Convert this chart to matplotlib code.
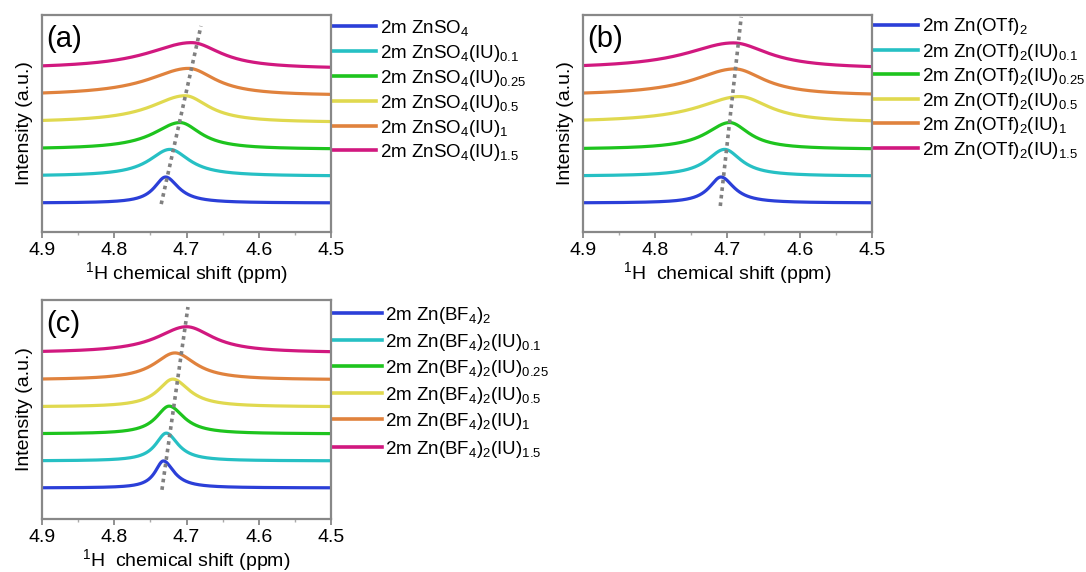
import numpy as np
import matplotlib
matplotlib.use('Agg')
import matplotlib.pyplot as plt
from matplotlib.transforms import offset_copy

plt.rcParams['font.family'] = ['Liberation Sans', 'DejaVu Sans']
plt.rcParams['mathtext.fontset'] = 'custom'
plt.rcParams['mathtext.rm'] = 'Liberation Sans'
plt.rcParams['mathtext.it'] = 'Liberation Sans:italic'

colors = ['#2b3fd8', '#26c0c4', '#1ec41e', '#e0d94f', '#e0823d', '#d1187f']
iu_ratio = ['', '(IU)$_{0.1}$', '(IU)$_{0.25}$', '(IU)$_{0.5}$', '(IU)$_{1}$', '(IU)$_{1.5}$']

# peak centre (ppm), half widths on the high / low ppm side, peak height
a_peaks = [4.729, 4.723, 4.709, 4.702, 4.697, 4.693]
a_hw_hi = [0.019, 0.035, 0.045, 0.058, 0.068, 0.075]
a_hw_lo = [0.022, 0.033, 0.035, 0.040, 0.045, 0.050]
a_height = [0.97, 1.0, 1.0, 1.0, 1.02, 0.98]

b_peaks = [4.709, 4.704, 4.697, 4.683, 4.690, 4.692]
b_hw_hi = [0.020, 0.030, 0.040, 0.070, 0.070, 0.080]
b_hw_lo = [0.022, 0.028, 0.033, 0.050, 0.050, 0.060]
b_height = [0.97, 1.0, 1.0, 0.97, 1.0, 0.97]

c_peaks = [4.732, 4.728, 4.724, 4.719, 4.716, 4.700]
c_hw_hi = [0.014, 0.018, 0.022, 0.025, 0.035, 0.050]
c_hw_lo = [0.018, 0.020, 0.025, 0.028, 0.035, 0.045]
c_height = [1.0, 1.03, 1.03, 1.03, 1.0, 0.97]

# dotted guide through the peak maxima: (x0, y0, x1, y1)
a_guide = [4.735, -0.04, 4.680, 6.6]
b_guide = [4.710, -0.11, 4.681, 6.94]
c_guide = [4.734, -0.07, 4.698, 6.7]

salts = ['ZnSO$_4$', 'Zn(OTf)$_2$', 'Zn(BF$_4$)$_2$']

x = np.linspace(4.9, 4.5, 1200)


def lorentz(x, x0, hw_hi, hw_lo):
    hw = np.where(x > x0, hw_hi, hw_lo)
    return 1.0 / (1.0 + ((x - x0) / hw) ** 2)


def panel(fig, rect, tag, salt, peaks, hw_hi, hw_lo, height, guide, ylim,
          xlabel, leg_rows, leg_x):
    ax = fig.add_axes(rect)
    for i in range(6):
        y = i + height[i] * lorentz(x, peaks[i], hw_hi[i], hw_lo[i])
        ax.plot(x, y, color=colors[i], lw=2.3, solid_capstyle='butt')
    ax.plot(guide[::2], guide[1::2], color='#808080', lw=2.6,
            linestyle=(0, (1, 1.1)))
    ax.set_xlim(4.9, 4.5)
    ax.set_ylim(*ylim)
    ax.set_xticks([4.9, 4.8, 4.7, 4.6, 4.5])
    ax.set_xticks([4.85, 4.75, 4.65, 4.55], minor=True)
    ax.set_yticks([])
    ax.tick_params(axis='x', which='major', direction='out', length=4,
                   width=1.3, color='#888888', labelsize=14, pad=3)
    ax.tick_params(axis='x', which='minor', direction='out', length=2.5,
                   width=1.0, color='#aaaaaa')
    for s in ax.spines.values():
        s.set_color('#888888')
        s.set_linewidth(1.6)
    ax.set_ylabel('Intensity (a.u.)', fontsize=14)
    ax.yaxis.set_label_coords(-0.032, 0.5)
    ax.set_xlabel(xlabel, fontsize=14)
    ax.xaxis.set_label_coords(0.5, -0.13)
    ax.text(0.014, 0.955, tag, transform=ax.transAxes, fontsize=21,
            ha='left', va='top')

    # legend drawn beside the axes
    tr_text = offset_copy(ax.transAxes, fig=fig, y=-5, units='points')
    for i in range(6):
        yy = leg_rows[i]
        ax.plot([leg_x[0], leg_x[1]], [yy, yy], transform=ax.transAxes,
                color=colors[i], lw=2.6, clip_on=False)
        ax.text(leg_x[2], yy, '2m ' + salt + iu_ratio[i], transform=tr_text,
                fontsize=13.5, ha='left', va='baseline')
    return ax


fig = plt.figure(figsize=(10.86, 5.72), dpi=100)
W, H = 1086.0, 572.0


def rect(x0, x1, y0, y1):
    return [x0 / W, (H - y1) / H, (x1 - x0) / W, (y1 - y0) / H]


panel(fig, rect(42, 331, 15, 232), '(a)', salts[0],
      a_peaks, a_hw_hi, a_hw_lo, a_height, a_guide, (-1.08, 7.01),
      '$^1$H chemical shift (ppm)',
      [0.949, 0.834, 0.719, 0.604, 0.488, 0.378], [1.007, 1.156, 1.17])
panel(fig, rect(583, 872, 15, 232), '(b)', salts[1],
      b_peaks, b_hw_hi, b_hw_lo, b_height, b_guide, (-1.08, 7.01),
      '$^1$H  chemical shift (ppm)',
      [0.956, 0.839, 0.728, 0.613, 0.502, 0.387], [1.003, 1.159, 1.173])
panel(fig, rect(42, 331, 300, 519), '(c)', salts[2],
      c_peaks, c_hw_hi, c_hw_lo, c_height, c_guide, (-1.15, 6.96),
      '$^1$H  chemical shift (ppm)',
      [0.941, 0.817, 0.699, 0.575, 0.457, 0.329], [1.007, 1.176, 1.187])

fig.savefig('out.png', dpi=100)
